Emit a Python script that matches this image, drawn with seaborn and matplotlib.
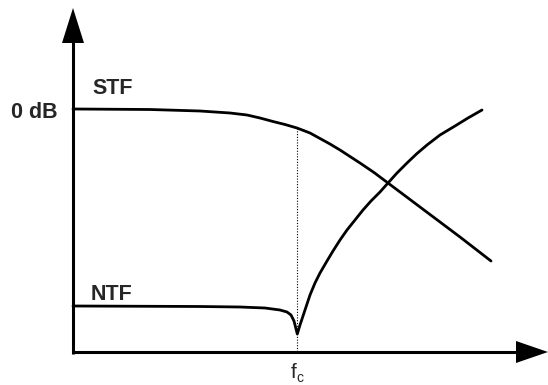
import matplotlib
matplotlib.use("Agg")
import matplotlib.pyplot as plt
import seaborn as sns
import pandas as pd

sns.set_theme(style="white")
plt.rcParams['font.family'] = ['Liberation Sans', 'DejaVu Sans']

# Schematic coordinates (frequency axis -> right, magnitude axis -> up, drawing units)
stf_freq = [73, 150, 200, 230, 247, 260, 273, 285, 297, 310, 320, 330, 340, 350,
            360, 374, 388, 404, 420, 440, 460, 491]
stf_mag = [109, 109.5, 111, 113, 115, 118, 121.5, 124.5, 128, 133, 138.5, 144, 150,
           156.5, 163, 172.5, 183, 195, 207, 222, 237, 261]

ntf_freq = [73, 200, 240, 265, 280, 287, 291, 294, 297.3, 300, 305, 310, 315, 320,
            327, 333, 340, 347, 355, 363, 371, 380, 388, 397, 407, 417, 427, 440,
            455, 468, 482]
ntf_mag = [306, 306.5, 307, 308, 310, 312, 315, 321, 334, 325, 310, 295, 283, 273,
           261, 251, 240, 230, 220, 210, 201, 192, 183, 173, 163, 153.5, 145, 135,
           126, 118, 110]

fc = 297.3
labels = {"STF": (92, 88), "NTF": (91, 295), "0 dB": (11, 113)}

df = pd.concat([
    pd.DataFrame({"f": stf_freq, "m": stf_mag, "curve": "STF"}),
    pd.DataFrame({"f": ntf_freq, "m": ntf_mag, "curve": "NTF"}),
])

fig = plt.figure(figsize=(5.48, 3.85), dpi=100)
ax = fig.add_axes([0, 0, 1, 1])
sns.lineplot(data=df, x="f", y="m", units="curve", estimator=None, sort=False,
             color="black", linewidth=2.0, ax=ax, legend=False)
for ln in ax.lines:
    ln.set_solid_joinstyle("round")

ax.set_xlim(0, 548)
ax.set_ylim(385, 0)
ax.axis("off")

# axes lines
ax.plot([73, 73], [354, 40], color="black", linewidth=2.2, solid_capstyle="butt")
ax.plot([72, 518], [352, 352], color="black", linewidth=2.2, solid_capstyle="butt")
# arrow heads
ax.fill([62, 84, 73], [43, 43, 8], color="black", lw=0)
ax.fill([516, 516, 548], [341, 363, 352], color="black", lw=0)

# dotted line at fc
ax.plot([fc, fc], [128, 352], color="black", linewidth=0.8, linestyle=(0, (1, 1.5)))

for txt, (x, y) in labels.items():
    ax.text(x, y, txt, fontsize=15.5, fontweight="bold", ha="left", va="center")

ax.text(fc - 0.5, 373, "f", fontsize=15, ha="right", va="center")
ax.text(fc - 0.5, 378, "c", fontsize=10, ha="left", va="center")

fig.savefig("out.png", dpi=100)
